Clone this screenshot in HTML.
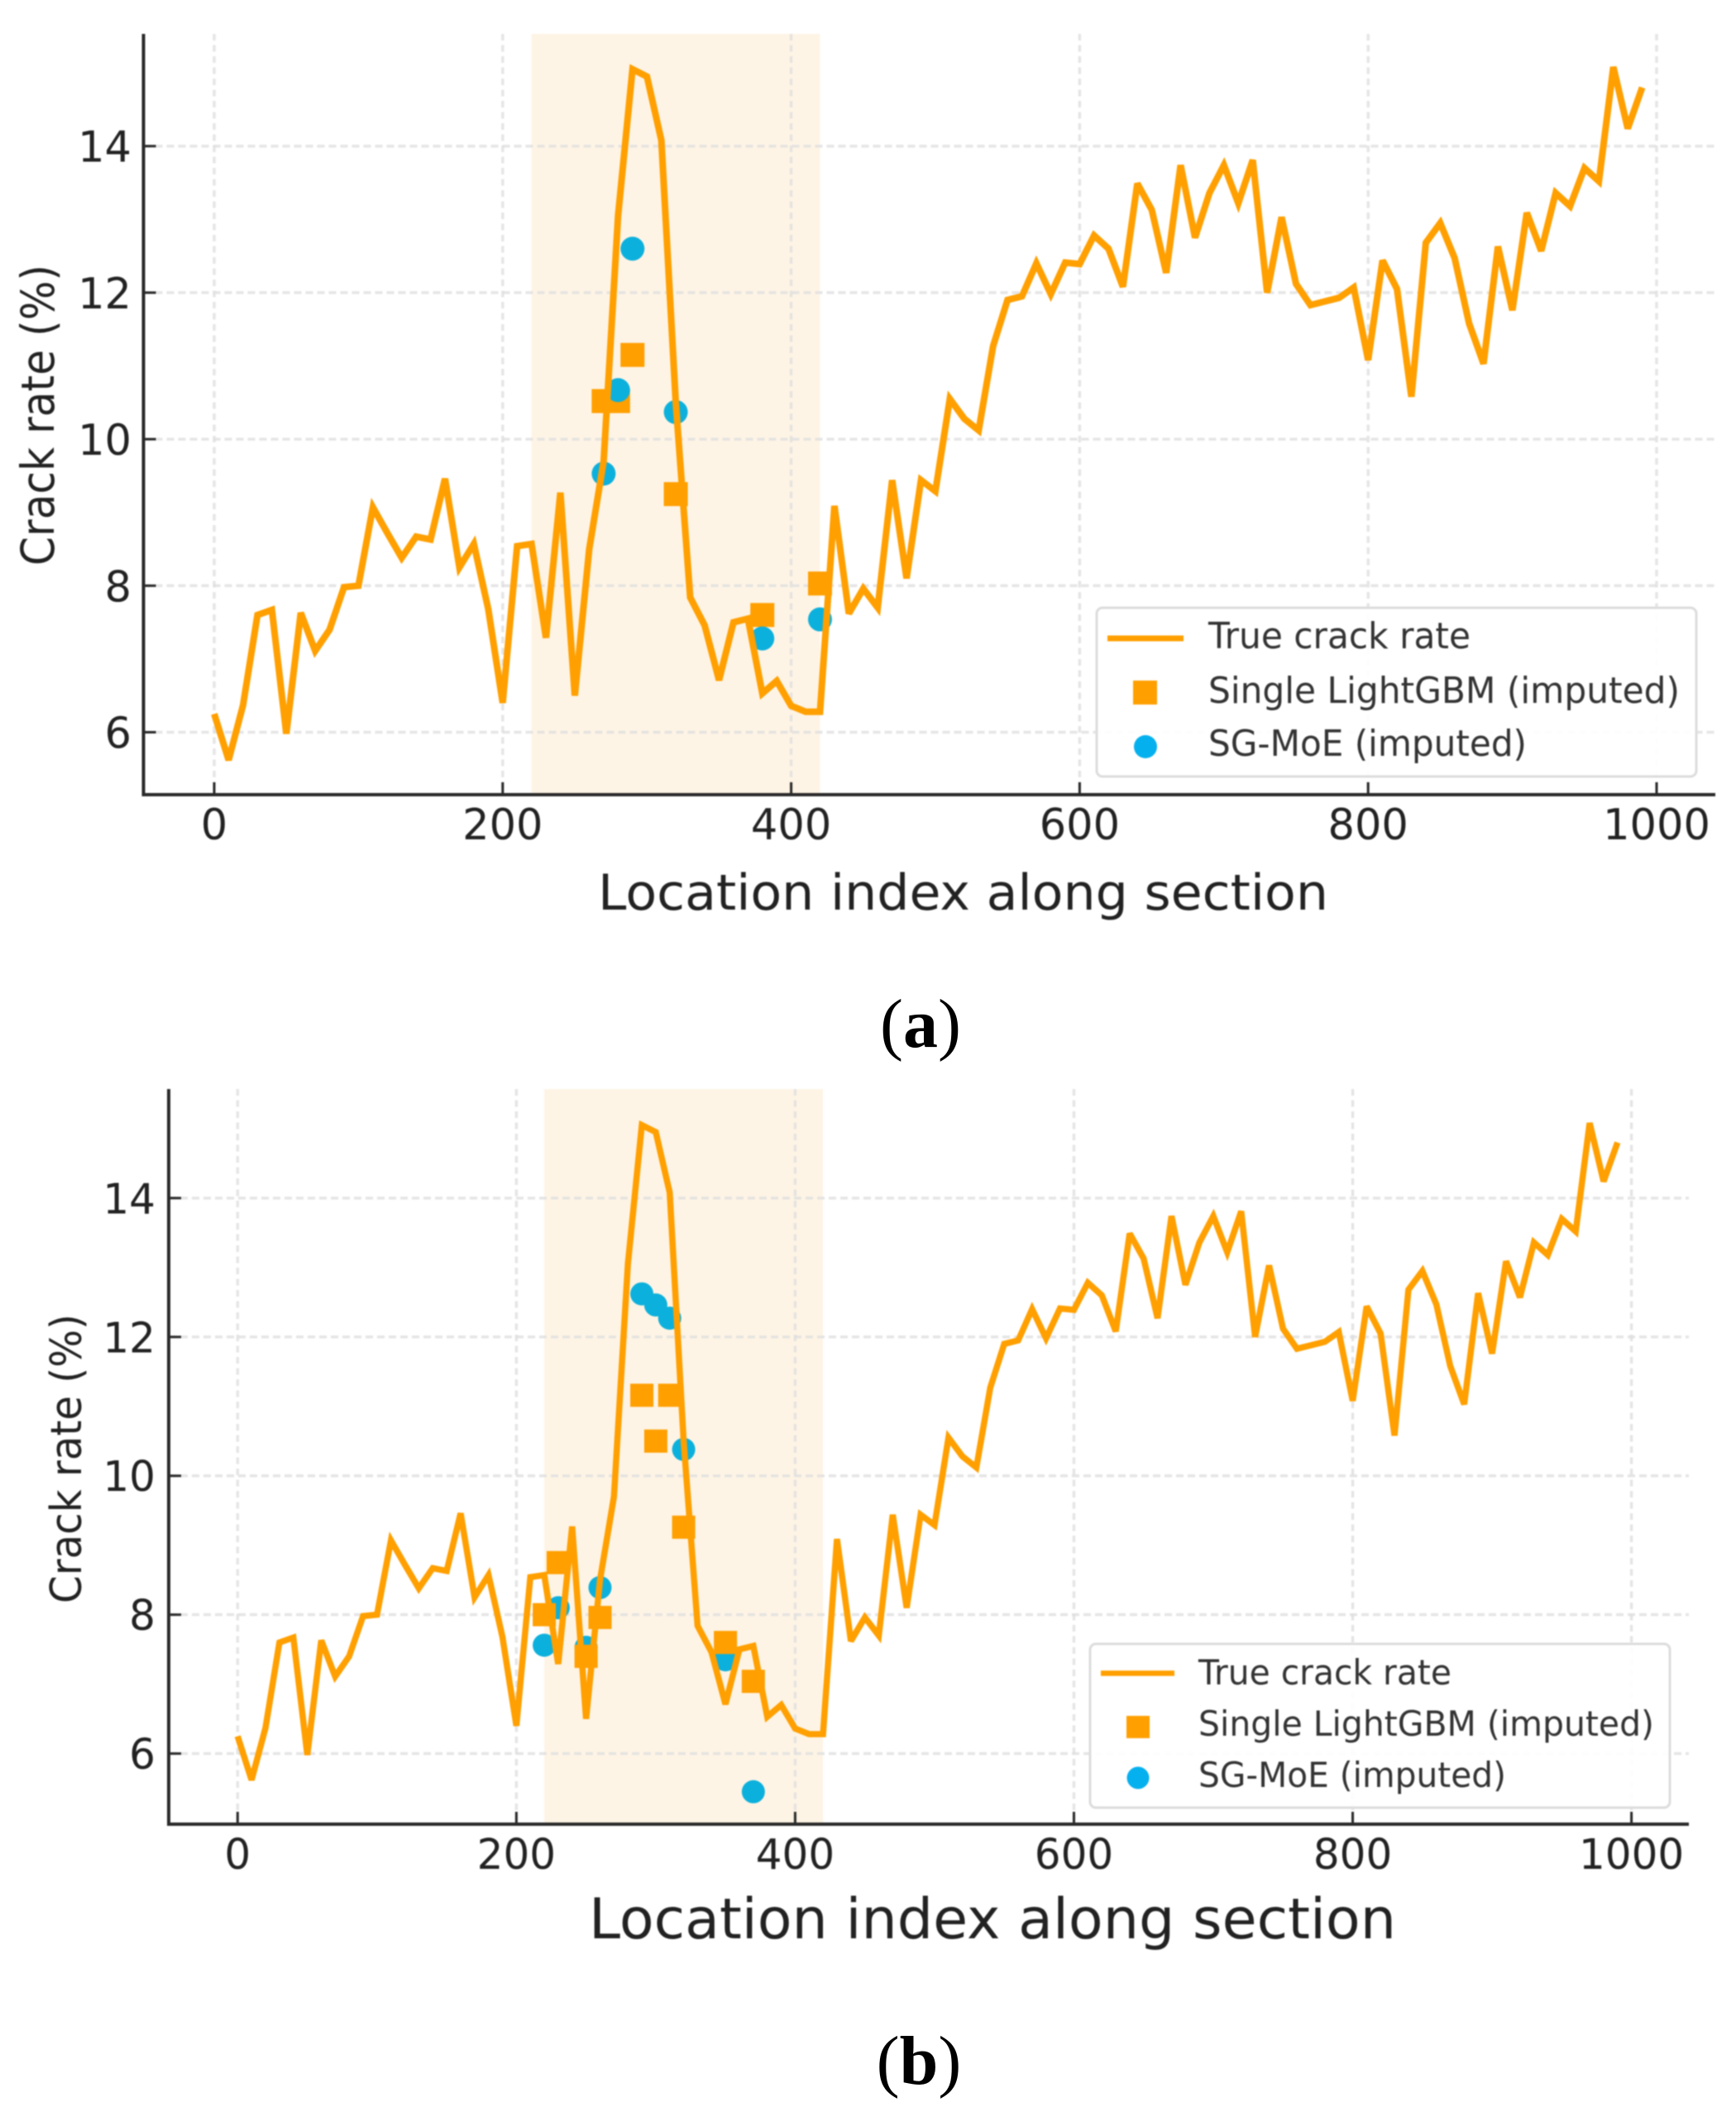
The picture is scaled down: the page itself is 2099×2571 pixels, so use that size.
<!DOCTYPE html>
<html lang="en">
<head>
<meta charset="utf-8">
<title>Crack rate imputation comparison</title>
<style>
html,body{margin:0;padding:0;background:#fff;}
#figure{display:block;width:2099px;height:2571px;}
svg text{font-family:"DejaVu Sans","Liberation Sans",sans-serif;}
svg text.caption{font-family:"Liberation Serif",serif;font-size:84px;fill:#000;}
.soft{filter:blur(0.7px);}
</style>
</head>
<body>
<svg id="figure" xmlns="http://www.w3.org/2000/svg" width="2099" height="2571" viewBox="0 0 2099 2571">
  <rect x="0" y="0" width="2099" height="2571" fill="#ffffff"/>
  <g id="panel-a" class="soft"></g>
  <g id="panel-b" class="soft"></g>

  <g class="soft">
    <rect x="1326" y="735" width="725" height="204" rx="7" fill="#ffffff" fill-opacity="0.9" stroke="#dcdcdc" stroke-width="3"/>
    <line x1="1339" y1="772" x2="1431" y2="772" stroke="#ff9f00" stroke-width="7"/>
    <rect x="1370" y="823" width="29" height="29" fill="#ff9f00"/>
    <circle cx="1385" cy="903" r="14" fill="#05b0ee"/>
    <text x="1461" y="784" font-size="44" fill="#333" textLength="317" lengthAdjust="spacingAndGlyphs">True crack rate</text>
    <text x="1461" y="850" font-size="44" fill="#333" textLength="570" lengthAdjust="spacingAndGlyphs">Single LightGBM (imputed)</text>
    <text x="1461" y="914" font-size="44" fill="#333" textLength="385" lengthAdjust="spacingAndGlyphs">SG-MoE (imputed)</text>
  </g>
  <text class="soft" x="723" y="1100" font-size="60" fill="#222" textLength="883" lengthAdjust="spacingAndGlyphs">Location index along section</text>
  <text class="soft" transform="translate(65,684) rotate(-90)" font-size="55" fill="#222" textLength="364" lengthAdjust="spacingAndGlyphs">Crack rate (%)</text>
  <text class="caption" x="1113" y="1266" text-anchor="middle">(<tspan font-weight="bold">a</tspan>)</text>

  <g class="soft">
    <rect x="1318" y="1988" width="701" height="198" rx="7" fill="#ffffff" fill-opacity="0.9" stroke="#dcdcdc" stroke-width="3"/>
    <line x1="1331" y1="2023.5" x2="1420" y2="2023.5" stroke="#ff9f00" stroke-width="6.5"/>
    <rect x="1362" y="2075" width="28" height="27" fill="#ff9f00"/>
    <circle cx="1376" cy="2150" r="13.5" fill="#05b0ee"/>
    <text x="1449" y="2037" font-size="42" fill="#333" textLength="306" lengthAdjust="spacingAndGlyphs">True crack rate</text>
    <text x="1449" y="2099" font-size="42" fill="#333" textLength="551" lengthAdjust="spacingAndGlyphs">Single LightGBM (imputed)</text>
    <text x="1449" y="2161" font-size="42" fill="#333" textLength="372" lengthAdjust="spacingAndGlyphs">SG-MoE (imputed)</text>
  </g>
  <text class="soft" x="712" y="2344" font-size="68" fill="#222" textLength="976" lengthAdjust="spacingAndGlyphs">Location index along section</text>
  <text class="soft" transform="translate(98,1939) rotate(-90)" font-size="52" fill="#222" textLength="350" lengthAdjust="spacingAndGlyphs">Crack rate (%)</text>
  <text class="caption" x="1111" y="2520" text-anchor="middle">(<tspan font-weight="bold">b</tspan>)</text>
</svg>
<script>
// Shared chart data
var locations = [0,10,20,30,40,50,60,70,80,90,100,110,120,130,140,150,160,170,180,190,200,210,220,230,240,250,260,270,280,290,300,310,320,330,340,350,360,370,380,390,400,410,420,430,440,450,460,470,480,490,500,510,520,530,540,550,560,570,580,590,600,610,620,630,640,650,660,670,680,690,700,710,720,730,740,750,760,770,780,790,800,810,820,830,840,850,860,870,880,890,900,910,920,930,940,950,960,970,980,990];
var trueCrackRate = [6.25,5.62,6.37,7.6,7.67,5.98,7.63,7.11,7.4,7.98,8.0,9.07,8.72,8.38,8.67,8.63,9.46,8.25,8.57,7.68,6.4,8.54,8.57,7.29,9.27,6.5,8.5,9.7,13.05,15.05,14.95,14.08,10.5,7.84,7.46,6.71,7.5,7.55,6.53,6.7,6.36,6.28,6.28,9.09,7.62,7.96,7.7,9.44,8.1,9.44,9.29,10.55,10.28,10.12,11.27,11.9,11.95,12.4,11.98,12.41,12.39,12.78,12.6,12.08,13.49,13.13,12.27,13.74,12.75,13.36,13.74,13.22,13.81,12.0,13.03,12.12,11.83,11.88,11.93,12.07,11.08,12.44,12.05,10.58,12.68,12.95,12.47,11.58,11.03,12.63,11.76,13.09,12.57,13.36,13.18,13.7,13.52,15.08,14.24,14.8];
var xTickLabels = [0,200,400,600,800,1000];
var yTickLabels = [6,8,10,12,14];
var shadeStart = 220;
var shadeEnd = 420;

// Panel (a) imputed points
var singleLocationsA = [270,280,290,320,380,420];
var singleValuesA = [10.52,10.52,11.15,9.25,7.6,8.03];
var moeLocationsA = [270,280,290,320,380,420];
var moeValuesA = [9.53,10.67,12.6,10.37,7.28,7.54];

// Panel (b) imputed points
var singleLocationsB = [220,230,250,260,290,300,310,320,350,370];
var singleValuesB = [8.0,8.75,7.4,7.96,11.16,10.5,11.16,9.26,7.6,7.04];
var moeLocationsB = [220,230,250,260,290,300,310,320,350,370];
var moeValuesB = [7.56,8.1,7.53,8.39,12.62,12.46,12.27,10.38,7.35,5.45];

var SVG_NS = 'http://www.w3.org/2000/svg';

function make(tag, attrs, parent) {
  var el = document.createElementNS(SVG_NS, tag);
  for (var k in attrs) { el.setAttribute(k, attrs[k]); }
  parent.appendChild(el);
  return el;
}

function drawPanel(root, cfg, singleX, singleY, moeX, moeY) {
  function xScale(v) { return cfg.x0 + cfg.xPerUnit * v; }
  function yScale(v) { return cfg.y6 - (v - 6) * cfg.yPerUnit; }

  var shade = make('rect', {x: xScale(shadeStart), y: cfg.top, width: xScale(shadeEnd) - xScale(shadeStart), height: cfg.bottom - cfg.top, fill: '#fef4e5'}, root);
  
  

  xTickLabels.forEach(function (t) {
    var g = make('line', {x1: xScale(t), x2: xScale(t), y1: cfg.top, y2: cfg.bottom, stroke: '#dedede', 'stroke-width': 3.5, 'stroke-dasharray': '8 5.5', 'stroke-opacity': 0.8}, root);
    
    
  });
  yTickLabels.forEach(function (t) {
    var g = make('line', {x1: cfg.left, x2: cfg.right, y1: yScale(t), y2: yScale(t), stroke: '#dedede', 'stroke-width': 3.5, 'stroke-dasharray': '9 5', 'stroke-opacity': 0.8}, root);
    
    
  });

  function drawCircles() {
    moeX.forEach(function (loc, i) {
      var c = make('circle', {cx: xScale(loc), cy: yScale(moeY[i]), r: cfg.markerSize / 2, fill: '#0cb0dc'}, root);
      
      
    });
  }
  function drawSquares() {
    singleX.forEach(function (loc, i) {
      var s = make('rect', {x: xScale(loc) - cfg.markerSize / 2, y: yScale(singleY[i]) - cfg.markerSize / 2, width: cfg.markerSize, height: cfg.markerSize, fill: '#ff9f00'}, root);
      
      
    });
  }
  if (cfg.circlesOnTop) {
    drawSquares();
    drawCircles();
  } else {
    drawCircles();
    drawSquares();
  }

  var pts = locations.map(function (loc, i) { return xScale(loc) + ',' + yScale(trueCrackRate[i]); }).join(' ');
  var line = make('polyline', {points: pts, fill: 'none', stroke: '#ff9f00', 'stroke-width': cfg.lineWidth, 'stroke-linejoin': 'miter', 'stroke-miterlimit': 3}, root);
  
  

  var spineL = make('line', {x1: cfg.left, x2: cfg.left, y1: cfg.top, y2: cfg.bottom + 2, stroke: '#2a2a2a', 'stroke-width': 4}, root);
  
  
  var spineB = make('line', {x1: cfg.left - 2, x2: cfg.right, y1: cfg.bottom, y2: cfg.bottom, stroke: '#2a2a2a', 'stroke-width': 4}, root);
  
  

  xTickLabels.forEach(function (t) {
    var tick = make('line', {x1: xScale(t), x2: xScale(t), y1: cfg.bottom, y2: cfg.bottom - 15, stroke: '#2a2a2a', 'stroke-width': 3}, root);
    
    
    var label = make('text', {transform: 'translate(' + xScale(t) + ',' + cfg.xLabelBase + ') scale(1,' + cfg.labelStretch + ')', 'text-anchor': 'middle', 'font-size': cfg.labelSize, fill: '#222'}, root);
    label.textContent = String(t);
    
    
  });
  yTickLabels.forEach(function (t) {
    var tick = make('line', {x1: cfg.left, x2: cfg.left + 15, y1: yScale(t), y2: yScale(t), stroke: '#2a2a2a', 'stroke-width': 3}, root);
    
    
    var label = make('text', {transform: 'translate(' + cfg.yLabelRight + ',' + (yScale(t) + cfg.labelHalf) + ') scale(1,' + cfg.labelStretch + ')', 'text-anchor': 'end', 'font-size': cfg.labelSize, fill: '#222'}, root);
    label.textContent = String(t);
    
    
  });
}

drawPanel(document.getElementById('panel-a'), {
  x0: 259, xPerUnit: 1.744, y6: 885.5, yPerUnit: 88.6,
  left: 173.5, right: 2074, top: 41, bottom: 961,
  lineWidth: 8, markerSize: 29, labelSize: 51, labelStretch: 1.02,
  xLabelBase: 1015, yLabelRight: 159, labelHalf: 19, circlesOnTop: true
}, singleLocationsA, singleValuesA, moeLocationsA, moeValuesA);

drawPanel(document.getElementById('panel-b'), {
  x0: 287.3, xPerUnit: 1.6853, y6: 2120.6, yPerUnit: 83.97,
  left: 204, right: 2042, top: 1317, bottom: 2206,
  lineWidth: 7.5, markerSize: 28, labelSize: 50, labelStretch: 1.02,
  xLabelBase: 2260, yLabelRight: 188, labelHalf: 18.5, circlesOnTop: false
}, singleLocationsB, singleValuesB, moeLocationsB, moeValuesB);
</script>
</body>
</html>
